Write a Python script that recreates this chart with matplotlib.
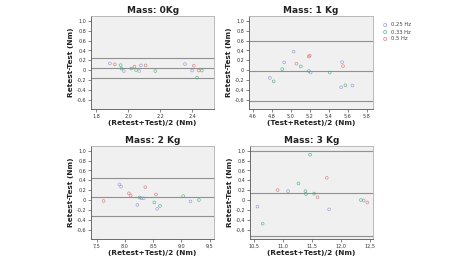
import matplotlib
matplotlib.use("Agg")
import matplotlib.pyplot as plt
from matplotlib.ticker import FuncFormatter

# ---- data ----
titles = ["Mass: 0Kg", "Mass: 1 Kg", "Mass: 2 Kg", "Mass: 3 Kg"]
xlabels = ["(Retest+Test)/2 (Nm)", "(Test+Retest)/2 (Nm)",
           "(Retest+Test)/2 (Nm)", "(Retest+Test)/2 (Nm)"]
ylabel = "Retest-Test (Nm)"
legend_labels = ["0.25 Hz", "0.33 Hz", "0.5 Hz"]

# mean, upper LoA, lower LoA
lines0 = [0.04, 0.24, -0.16]
lines1 = [-0.015, 0.60, -0.625]
lines2 = [0.055, 0.44, -0.32]
lines3 = [0.135, 0.985, -0.74]

# points: x, y, group (0=0.25Hz, 1=0.33Hz, 2=0.5Hz)
x0 = [1.887, 1.918, 1.954, 1.96, 1.974, 2.02, 2.04, 2.05, 2.07, 2.08, 2.11, 2.17,
      2.355, 2.40, 2.41, 2.43, 2.44, 2.46]
y0 = [0.135, 0.115, 0.10, 0.03, -0.02, 0.03, 0.07, 0.0, -0.02, 0.095, 0.095, -0.02,
      0.12, -0.01, 0.09, -0.155, -0.01, -0.01]
g0 = [0, 2, 1, 1, 0, 1, 2, 1, 0, 0, 2, 1, 0, 0, 2, 1, 2, 1]

x1 = [4.78, 4.82, 4.91, 4.93, 5.03, 5.06, 5.105, 5.19, 5.20, 5.19, 5.21, 5.41,
      5.54, 5.55, 5.53, 5.575, 5.65]
y1 = [-0.16, -0.23, 0.02, 0.155, 0.375, 0.13, 0.074, 0.275, 0.295, -0.02, -0.05, -0.05,
      0.16, 0.08, -0.35, -0.31, -0.315]
g1 = [0, 1, 1, 0, 0, 2, 1, 2, 2, 1, 0, 1, 0, 2, 0, 1, 0]

x2 = [7.62, 7.90, 7.93, 8.07, 8.10, 8.22, 8.26, 8.29, 8.33, 8.36, 8.52, 8.55,
      8.57, 8.62, 9.03, 9.16, 9.31]
y2 = [-0.02, 0.315, 0.27, 0.135, 0.09, -0.10, 0.05, 0.035, 0.035, 0.26, -0.05, 0.11,
      -0.18, -0.12, 0.08, -0.03, 0.0]
g2 = [2, 0, 0, 2, 2, 0, 1, 0, 0, 2, 1, 2, 0, 1, 1, 0, 1]

x3 = [10.56, 10.65, 10.91, 11.09, 11.27, 11.39, 11.40, 11.47, 11.54, 11.60, 11.76,
      11.80, 12.35, 12.40, 12.46]
y3 = [-0.135, -0.48, 0.20, 0.18, 0.335, 0.18, 0.12, 0.92, 0.13, 0.055, 0.45,
      -0.19, 0.0, -0.01, -0.05]
g3 = [0, 1, 2, 0, 1, 1, 1, 1, 1, 2, 2, 0, 1, 0, 2]

xlims = [(1.77, 2.537), (4.56, 5.866), (7.4, 9.58), (10.43, 12.56)]
xticks = [[1.8, 2.0, 2.2, 2.4], [4.6, 4.8, 5.0, 5.2, 5.4, 5.6, 5.8],
          [7.5, 8.0, 8.5, 9.0, 9.5], [10.5, 11.0, 11.5, 12.0, 12.5]]
yticks = [1.0, 0.8, 0.6, 0.4, 0.2, 0.0, -0.2, -0.4, -0.6]

colors = ["#9090d8", "#40b080", "#e07070"]

positions = [
    [0.191, 0.578, 0.258, 0.360],
    [0.522, 0.578, 0.260, 0.360],
    [0.191, 0.074, 0.258, 0.361],
    [0.524, 0.074, 0.258, 0.361],
]

fig = plt.figure(figsize=(4.77, 2.58), dpi=100)
fig.patch.set_facecolor("white")


def fmt(v, pos):
    if abs(v) < 1e-9:
        return "0"
    return ("%.1f" % v).replace(".", ",")


data = [(x0, y0, g0, lines0), (x1, y1, g1, lines1), (x2, y2, g2, lines2), (x3, y3, g3, lines3)]
for i, (xs, ys, gs, ln) in enumerate(data):
    ax = fig.add_axes(positions[i])
    ax.set_facecolor("#f0f0f0")
    for v in ln:
        ax.axhline(v, color="#909090", lw=0.8, zorder=1)
    for g in range(3):
        px = [x for x, gg in zip(xs, gs) if gg == g]
        py = [y for y, gg in zip(ys, gs) if gg == g]
        ax.scatter(px, py, s=4, facecolors="none", edgecolors=colors[g],
                   linewidths=0.5, alpha=0.8, zorder=2)
    ax.set_xlim(*xlims[i])
    ax.set_ylim(-0.79, 1.1)
    ax.set_xticks(xticks[i])
    ax.set_yticks(yticks)
    ax.xaxis.set_major_formatter(FuncFormatter(fmt))
    ax.yaxis.set_major_formatter(FuncFormatter(fmt))
    ax.tick_params(labelsize=3.5, length=2, width=0.5, color="#555555",
                   labelcolor="#333333", pad=1.5)
    for s in ["top", "right"]:
        ax.spines[s].set_color("#b0b0b0")
        ax.spines[s].set_linewidth(0.6)
    for s in ["left", "bottom"]:
        ax.spines[s].set_color("#555555")
        ax.spines[s].set_linewidth(0.6)
    ax.set_title(titles[i], fontsize=6.5, fontweight="bold", pad=2, color="#222222")
    ax.set_xlabel(xlabels[i], fontsize=5.3, fontweight="bold", labelpad=0.8, color="#222222")
    ax.set_ylabel(ylabel, fontsize=5.3, fontweight="bold", labelpad=2, color="#222222")

# legend
for k, lab in enumerate(legend_labels):
    yk = 1 - (25 + 7 * k) / 258
    fig.text(385 / 477, yk, "o", color=colors[k], fontsize=5, ha="center", va="center")
    fig.text(391 / 477, yk, lab, color="#444444", fontsize=3.8, ha="left", va="center")

fig.savefig("out.png", dpi=100)
